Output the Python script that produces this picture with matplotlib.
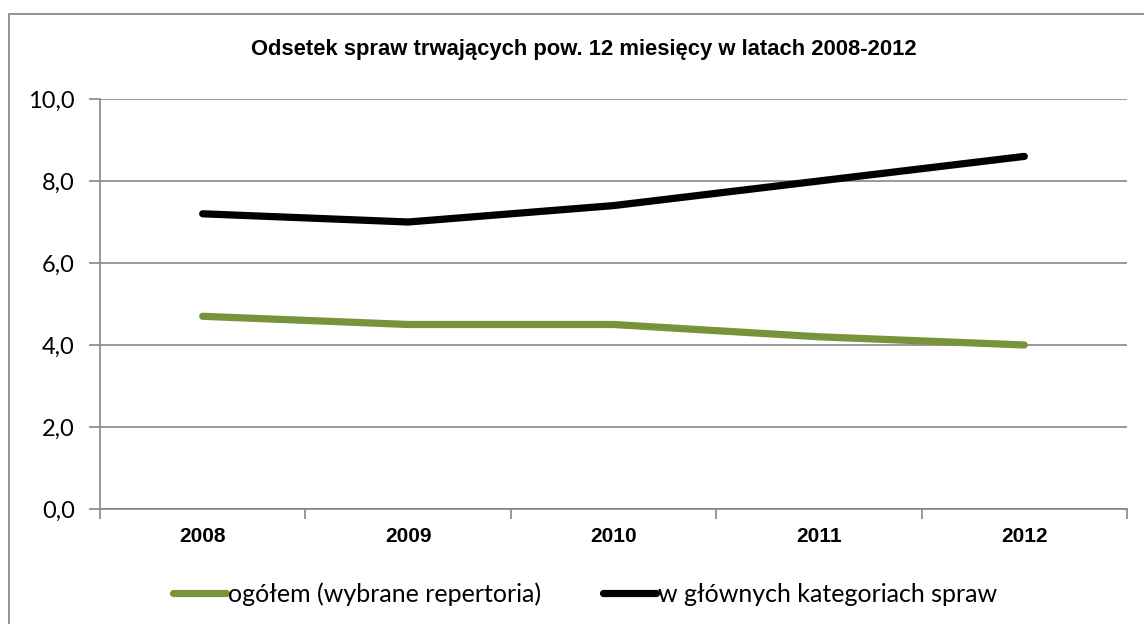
import matplotlib
matplotlib.use("Agg")
import matplotlib.pyplot as plt
from matplotlib.patches import Rectangle
from matplotlib.ticker import FixedLocator, FuncFormatter
from matplotlib.lines import Line2D

years = ["2008", "2009", "2010", "2011", "2012"]
ogolem = [4.7, 4.5, 4.5, 4.2, 4.0]
glowne = [7.2, 7.0, 7.4, 8.0, 8.6]
series_names = ["ogółem (wybrane repertoria)", "w głównych kategoriach spraw"]
series_colors = ["#77933C", "#000000"]
title = "Odsetek spraw trwających pow. 12 miesięcy w latach 2008-2012"
yticks = [0, 2, 4, 6, 8, 10]

W, H = 1144, 624
fig = plt.figure(figsize=(W / 100, H / 100), dpi=100)
fig.patch.set_facecolor("white")

# outer chart border (right/bottom edges fall outside the image)
fig.patches.append(Rectangle((9 / W, -0.05), 1.1, 1 - 14 / H + 0.05,
                             transform=fig.transFigure, fill=False,
                             edgecolor="#8c8c8c", linewidth=1.3))

ax = fig.add_axes([100 / W, 1 - 509 / H, (1127 - 100) / W, (509 - 99) / H])
grid_c = "#878787"
x = list(range(len(years)))
ax.plot(x, ogolem, color=series_colors[0], linewidth=5.2, solid_capstyle="round",
        solid_joinstyle="round", zorder=3)
ax.plot(x, glowne, color=series_colors[1], linewidth=5.2, solid_capstyle="round",
        solid_joinstyle="round", zorder=3)

ax.set_xlim(-0.5, len(years) - 0.5)
ax.set_ylim(0, 10)
ax.set_yticks(yticks)
ax.yaxis.set_major_formatter(FuncFormatter(lambda v, p: f"{v:.1f}".replace(".", ",")))
ax.yaxis.grid(True, color=grid_c, linewidth=1.2)
ax.set_axisbelow(True)

ax.xaxis.set_major_locator(FixedLocator([i - 0.5 for i in range(len(years) + 1)]))
ax.xaxis.set_major_formatter(FuncFormatter(lambda v, p: ""))
ax.xaxis.set_minor_locator(FixedLocator(x))
ax.set_xticklabels(years, minor=True)
ax.tick_params(axis="x", which="major", direction="out", length=7, width=1.2, color=grid_c)
ax.tick_params(axis="x", which="minor", length=0, pad=13)
ax.tick_params(axis="y", direction="out", length=8, width=1.2, color=grid_c, pad=10)
for lbl in ax.get_xticklabels(minor=True):
    lbl.set_fontfamily(["Liberation Sans", "DejaVu Sans"])
    lbl.set_fontweight("bold")
    lbl.set_fontsize(15)
for lbl in ax.get_yticklabels():
    lbl.set_fontfamily(["Lato", "DejaVu Sans"])
    lbl.set_fontsize(17)

for s in ["top", "right"]:
    ax.spines[s].set_visible(False)
for s in ["left", "bottom"]:
    ax.spines[s].set_color(grid_c)
    ax.spines[s].set_linewidth(1.2)

fig.text(584 / W, 1 - 50 / H, title, ha="center", va="center",
         fontfamily=["Liberation Sans", "DejaVu Sans"],
         fontweight="bold", fontsize=15.8)

handles = [Line2D([], [], color=c, linewidth=5.2, solid_capstyle="round") for c in series_colors]
fig.legend(handles, series_names, loc="center", bbox_to_anchor=(585 / W, 1 - 594 / H),
           ncol=2, frameon=False, handlelength=2.1, handletextpad=0.08, columnspacing=2.5,
           borderpad=0, prop={"family": ["Lato", "DejaVu Sans"], "size": 18})

fig.savefig("out.png", dpi=100)
